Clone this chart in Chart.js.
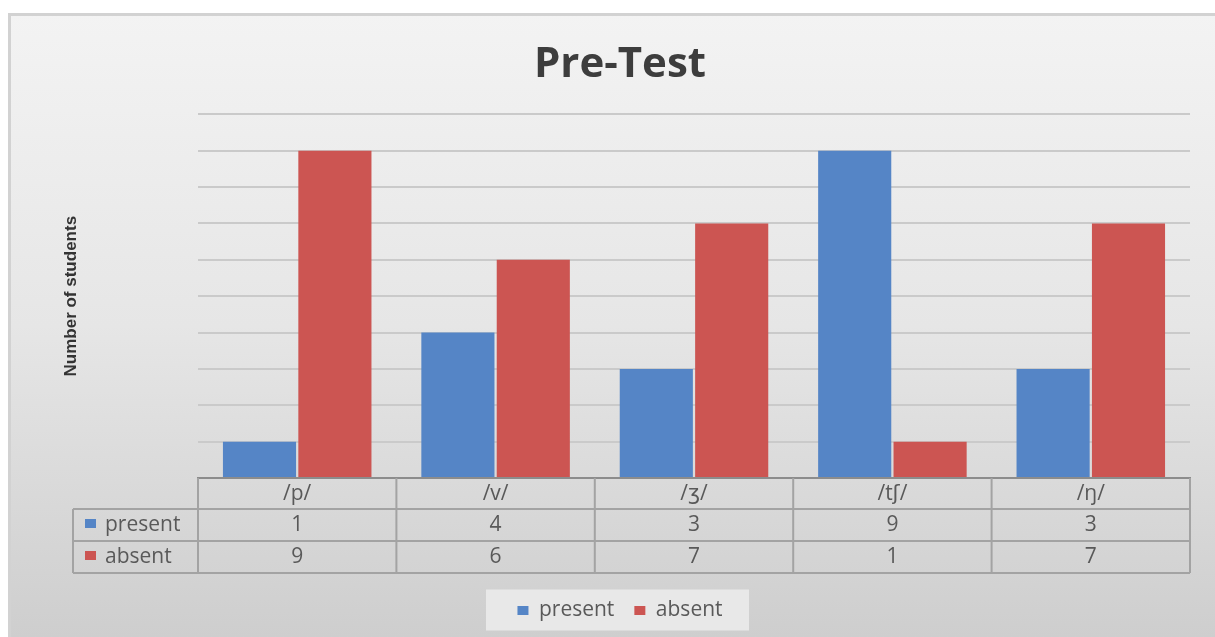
<!DOCTYPE html>
<html>
<head>
<meta charset="utf-8">
<script src="https://cdn.jsdelivr.net/npm/chart.js@4/dist/chart.umd.min.js"></script>
<style>
  html, body { margin: 0; padding: 0; background: #ffffff; }
  #wrap { width: 1215px; height: 637px; position: relative; }
</style>
</head>
<body>
<div id="wrap"><canvas id="c" width="1215" height="637"></canvas></div>
<script>
const categories = ['/p/', '/v/', '/ʒ/', '/tʃ/', '/ŋ/'];
const seriesNames = ['present', 'absent'];
const presentValues = [1, 4, 3, 9, 3];
const absentValues = [9, 6, 7, 1, 7];
const seriesColors = ['#5585c6', '#cc5552'];
const chartTitle = 'Pre-Test';
const yAxisTitle = 'Number of students';

const FONT = "'Open Sans', 'DejaVu Sans', sans-serif";
const TEXT_COLOR = '#595959';
const TABLE_LINE = '#a3a3a3';
const PLOT_LEFT = 198, PLOT_BOTTOM = 478;

const panelPlugin = {
  id: 'panel',
  beforeDraw(chart) {
    const ctx = chart.ctx;
    const W = chart.width, H = chart.height;
    ctx.save();
    ctx.fillStyle = '#ffffff';
    ctx.fillRect(0, 0, W, H);
    const g = ctx.createLinearGradient(0, 14, 0, H);
    g.addColorStop(0, '#f3f3f3');
    g.addColorStop(0.5, '#e6e6e6');
    g.addColorStop(1, '#cecece');
    ctx.fillStyle = g;
    ctx.fillRect(8, 13, W - 8, H - 13);
    ctx.strokeStyle = '#d2d2d2';
    ctx.lineWidth = 3;
    ctx.beginPath();
    ctx.moveTo(9.5, H);
    ctx.lineTo(9.5, 14.5);
    ctx.lineTo(W, 14.5);
    ctx.stroke();
    const lg = chart.legend;
    if (lg && lg.options.display) {
      const cx = (lg.left + lg.right) / 2;
      const cy = lg.top + lg.options.labels.padding + 12.5;
      ctx.fillStyle = 'rgba(236,236,236,0.85)';
      ctx.fillRect(cx - 134, cy - 23, 263, 41);
    }
    ctx.restore();
  }
};

const tablePlugin = {
  id: 'dataTable',
  afterDraw(chart) {
    const ctx = chart.ctx;
    const x = chart.scales.x;
    const area = chart.chartArea;
    const n = categories.length;
    const cw = (area.right - area.left) / n;
    const rows = [presentValues, absentValues];
    const rowTops = [509, 541];
    const rowH = 32;
    const tableLeft = 73;
    const tableBottom = rowTops[1] + rowH;
    ctx.save();
    ctx.strokeStyle = TABLE_LINE;
    ctx.lineWidth = 2;
    ctx.beginPath();
    for (let i = 0; i <= n; i++) {
      const vx = area.left + i * cw;
      ctx.moveTo(vx, area.bottom);
      ctx.lineTo(vx, tableBottom);
    }
    ctx.moveTo(tableLeft, rowTops[0]);
    ctx.lineTo(tableLeft, tableBottom);
    [rowTops[0], rowTops[1], tableBottom].forEach(hy => {
      ctx.moveTo(tableLeft, hy);
      ctx.lineTo(area.right, hy);
    });
    ctx.stroke();

    ctx.font = '21px ' + FONT;
    ctx.fillStyle = TEXT_COLOR;
    ctx.textBaseline = 'middle';
    rows.forEach((vals, r) => {
      const cy = rowTops[r] + rowH / 2;
      ctx.fillStyle = seriesColors[r];
      ctx.fillRect(tableLeft + 12, cy - 6, 11, 9);
      ctx.fillStyle = TEXT_COLOR;
      ctx.textAlign = 'left';
      ctx.fillText(seriesNames[r], tableLeft + 32, cy);
      ctx.textAlign = 'center';
      vals.forEach((v, i) => {
        ctx.fillText(String(v), x.getPixelForValue(i), cy);
      });
    });
    ctx.restore();
  }
};

new Chart(document.getElementById('c'), {
  type: 'bar',
  data: {
    labels: categories,
    datasets: [
      { label: seriesNames[0], data: presentValues, backgroundColor: seriesColors[0],
        categoryPercentage: 0.76, barPercentage: 0.97 },
      { label: seriesNames[1], data: absentValues, backgroundColor: seriesColors[1],
        categoryPercentage: 0.76, barPercentage: 0.97 }
    ]
  },
  options: {
    responsive: false,
    animation: false,
    devicePixelRatio: 1,
    layout: { padding: { top: 16, left: 50, right: 25, bottom: 6 } },
    plugins: {
      title: {
        display: true,
        text: chartTitle,
        color: '#3d3d3d',
        font: { family: FONT, size: 42, weight: 'bold', lineHeight: 1.2 },
        padding: { top: 24, bottom: 24 }
      },
      legend: {
        display: true,
        position: 'bottom',
        labels: {
          color: TEXT_COLOR,
          font: { family: FONT, size: 21 },
          boxWidth: 11,
          boxHeight: 9,
          padding: 20
        }
      },
      tooltip: { enabled: false }
    },
    scales: {
      x: {
        grid: { display: false, drawTicks: false },
        border: { display: true, color: '#8c8c8c', width: 2 },
        ticks: { color: TEXT_COLOR, font: { family: FONT, size: 21 }, padding: 3, maxRotation: 0 },
        afterFit(scale) {
          const lg = scale.chart.legend;
          const lh = lg ? lg.height : 55;
          scale.height = scale.chart.height - 6 - lh - PLOT_BOTTOM;
        }
      },
      y: {
        min: 0,
        max: 10,
        ticks: { display: false, stepSize: 1 },
        grid: { color: '#cacaca', lineWidth: 2, drawTicks: false },
        border: { display: false },
        title: {
          display: true,
          text: yAxisTitle,
          color: '#333333',
          font: { family: "'Liberation Sans', sans-serif", size: 17, weight: 'bold', lineHeight: 1.2 },
          padding: { top: 11, bottom: 0 }
        },
        afterFit(scale) {
          scale.width = PLOT_LEFT - 50;
        }
      }
    }
  },
  plugins: [panelPlugin, tablePlugin]
});
</script>
</body>
</html>
